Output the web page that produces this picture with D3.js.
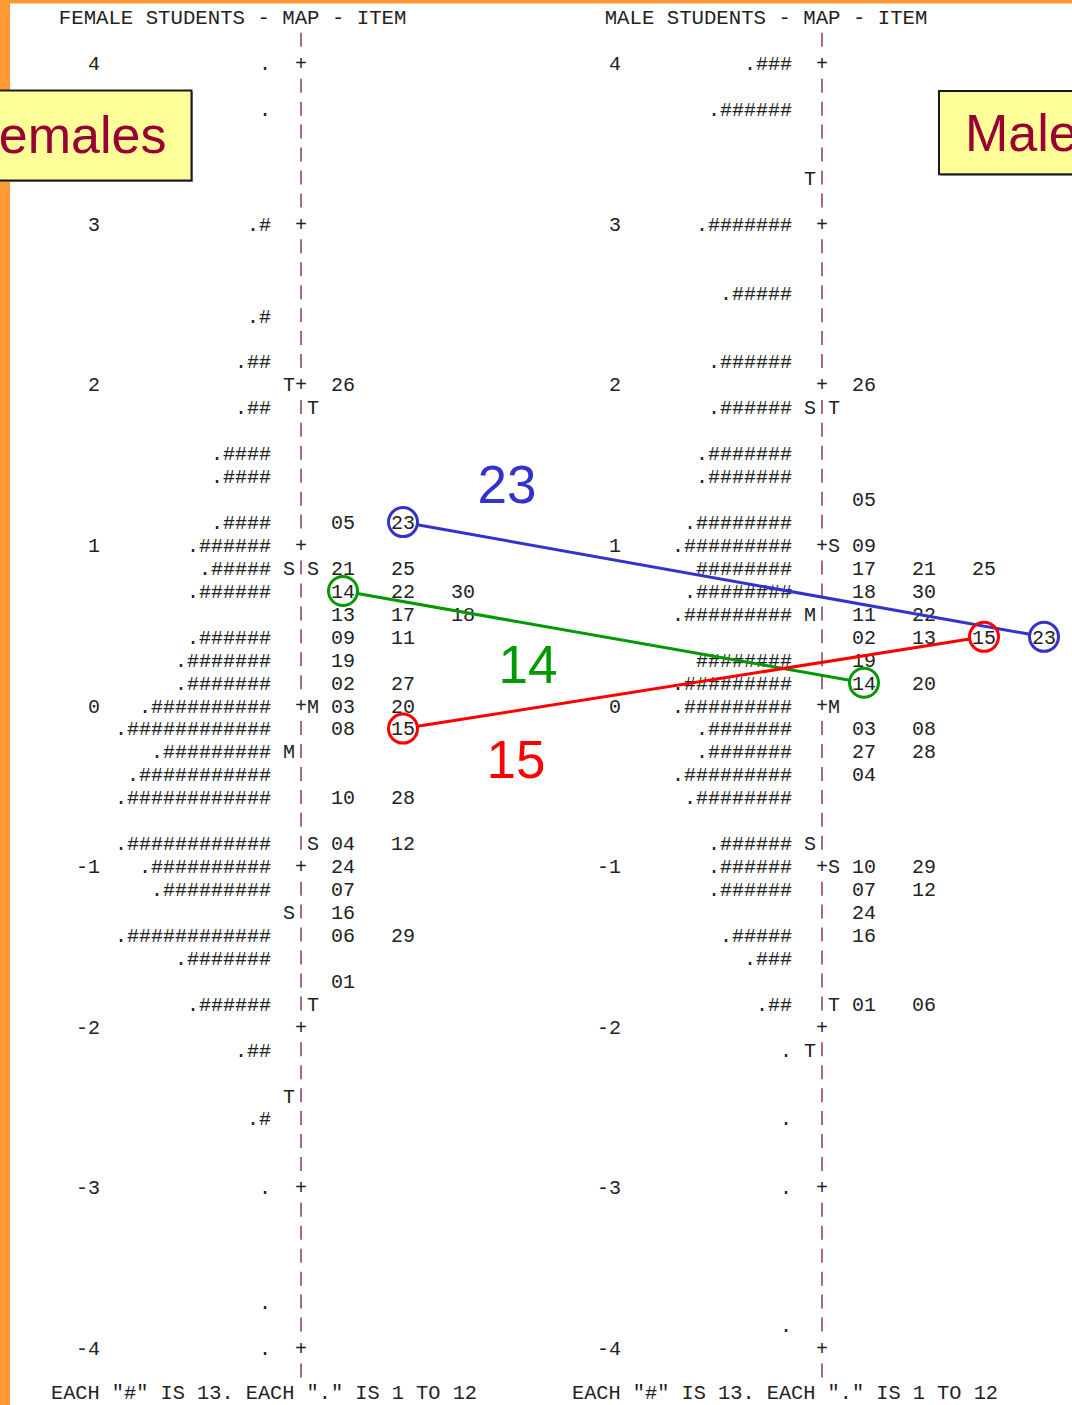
<!DOCTYPE html>
<html>
<head>
<meta charset="utf-8">
<script src="https://cdn.jsdelivr.net/npm/d3@7"></script>
<style>
  html, body { margin: 0; padding: 0; background: #fff; overflow: hidden; }
  svg { display: block; }
</style>
</head>
<body>
<svg id="chart" width="1072" height="1405"></svg>
<script>
// ---- Data: Rasch person–item maps by gender (each text row = 1/7 logit) ----
const logitTicks = [4, 3, 2, 1, 0, -1, -2, -3, -4];
const ROWS_PER_LOGIT = 7;

// persons: [row from top, number of "#", leading "." present]
const femalePersons = [
  [0, 0, 1], [2, 0, 1], [7, 1, 1], [11, 1, 1], [13, 2, 1], [15, 2, 1],
  [17, 4, 1], [18, 4, 1], [20, 4, 1], [21, 6, 1], [22, 5, 1], [23, 6, 1],
  [25, 6, 1], [26, 7, 1], [27, 7, 1], [28, 10, 1], [29, 12, 1], [30, 9, 1],
  [31, 11, 1], [32, 12, 1], [34, 12, 1], [35, 10, 1], [36, 9, 1], [38, 12, 1],
  [39, 7, 1], [41, 6, 1], [43, 2, 1], [46, 1, 1], [49, 0, 1], [54, 0, 1], [56, 0, 1]
];
const femaleItems = [
  [14, ["26"]], [20, ["05", "23"]], [22, ["21", "25"]], [23, ["14", "22", "30"]],
  [24, ["13", "17", "18"]], [25, ["09", "11"]], [26, ["19"]], [27, ["02", "27"]],
  [28, ["03", "20"]], [29, ["08", "15"]], [32, ["10", "28"]], [34, ["04", "12"]],
  [35, ["24"]], [36, ["07"]], [37, ["16"]], [38, ["06", "29"]], [40, ["01"]]
];
const femaleLeftMarks = [[14, "T"], [22, "S"], [30, "M"], [37, "S"], [45, "T"]];
const femaleRightMarks = [[15, "T"], [22, "S"], [28, "M"], [34, "S"], [41, "T"]];

const malePersons = [
  [0, 3, 1], [2, 6, 1], [7, 7, 1], [10, 5, 1], [13, 6, 1], [15, 6, 1],
  [17, 7, 1], [18, 7, 1], [20, 8, 1], [21, 9, 1], [22, 8, 0], [23, 8, 1],
  [24, 9, 1], [26, 8, 0], [27, 9, 1], [28, 9, 1], [29, 7, 1], [30, 7, 1],
  [31, 9, 1], [32, 8, 1], [34, 6, 1], [35, 6, 1], [36, 6, 1], [38, 5, 1],
  [39, 3, 1], [41, 2, 1], [43, 0, 1], [46, 0, 1], [49, 0, 1], [55, 0, 1]
];
const maleItems = [
  [14, ["26"]], [19, ["05"]], [21, ["09"]], [22, ["17", "21", "25"]],
  [23, ["18", "30"]], [24, ["11", "22"]], [25, ["02", "13", "15", "23"]],
  [26, ["19"]], [27, ["14", "20"]], [29, ["03", "08"]], [30, ["27", "28"]],
  [31, ["04"]], [35, ["10", "29"]], [36, ["07", "12"]], [37, ["24"]],
  [38, ["16"]], [41, ["01", "06"]]
];
const maleLeftMarks = [[5, "T"], [15, "S"], [24, "M"], [34, "S"], [43, "T"]];
const maleRightMarks = [[15, "T"], [21, "S"], [28, "M"], [35, "S"], [41, "T"]];

const panelTitles = ["FEMALE STUDENTS - MAP - ITEM", "MALE STUDENTS - MAP - ITEM"];
const footerText = 'EACH "#" IS 13. EACH "." IS 1 TO 12';
const boxLabels = ["Females", "Males"];

// items whose shift between the two maps is highlighted
const linkedItems = ["23", "14", "15"];
const linkColors = ["#3333cc", "#009900", "#ff0000"];

// ---- Layout ----
const W = 1072, H = 1405;
const MONO = "'Liberation Mono', 'Courier New', monospace";
const SANS = "'Liberation Sans', Arial, sans-serif";
const FS = 20;            // mono font size -> 12px per character
const CW = FS * 0.6;
const INK = "#222";
const BAR = "#a0587f";

const svg = d3.select("#chart");
const y = d3.scaleLinear().domain([4, -4]).range([63.3, 1348]);
const rowY = r => y(4 - r / ROWS_PER_LOGIT);

const panels = [
  { axisX: 301, persons: femalePersons, items: femaleItems,
    left: femaleLeftMarks, right: femaleRightMarks, title: panelTitles[0] },
  { axisX: 822, persons: malePersons, items: maleItems,
    left: maleLeftMarks, right: maleRightMarks, title: panelTitles[1] }
];

// page background and orange frame
svg.append("rect").attr("width", W).attr("height", H).attr("fill", "#fff");
svg.append("rect").attr("x", 0).attr("y", 0).attr("width", 10).attr("height", H).attr("fill", "#ff9933");
svg.append("rect").attr("x", 0).attr("y", 0).attr("width", W).attr("height", 3.5).attr("fill", "#ff9933");

const itemX = (p, col) => p.axisX + 42 + 60 * col;   // centre of a two-digit item label

panels.forEach(p => {
  const g = svg.append("g").attr("font-family", MONO).attr("font-size", FS).attr("fill", INK);

  // title, with "MAP" centred on the axis
  const tfs = 20.7, tcw = tfs * 0.6;
  g.append("text")
    .attr("x", p.axisX - (p.title.indexOf("MAP") + 1.5) * tcw)
    .attr("y", rowY(-2) + 7)
    .attr("font-size", tfs)
    .text(p.title);

  // dashed vertical axis: "|" on every row, "+" at whole logits
  const rows = d3.range(-1, 58);
  const isTick = r => r >= 0 && r <= 56 && r % ROWS_PER_LOGIT === 0;
  g.selectAll("line.bar").data(rows.filter(r => !isTick(r))).join("line")
    .attr("class", "bar")
    .attr("x1", p.axisX).attr("x2", p.axisX)
    .attr("y1", r => rowY(r) - 7.5).attr("y2", r => rowY(r) + 6.5)
    .attr("stroke", BAR).attr("stroke-width", 1.8);
  g.selectAll("text.plus").data(logitTicks).join("text")
    .attr("class", "plus")
    .attr("x", p.axisX).attr("y", v => y(v) + 6.8)
    .attr("text-anchor", "middle")
    .text("+");

  // logit labels
  g.selectAll("text.tick").data(logitTicks).join("text")
    .attr("class", "tick")
    .attr("x", p.axisX - 201).attr("y", v => y(v) + 6.9)
    .attr("text-anchor", "end")
    .text(v => String(v));

  // persons
  g.selectAll("text.person").data(p.persons).join("text")
    .attr("class", "person")
    .attr("x", p.axisX - 30).attr("y", d => rowY(d[0]) + 6.9)
    .attr("text-anchor", "end")
    .text(d => (d[2] ? "." : "") + "#".repeat(d[1]));

  // mean / SD markers
  g.selectAll("text.lm").data(p.left).join("text")
    .attr("class", "lm")
    .attr("x", p.axisX - CW).attr("y", d => rowY(d[0]) + 6.9)
    .attr("text-anchor", "middle").text(d => d[1]);
  g.selectAll("text.rm").data(p.right).join("text")
    .attr("class", "rm")
    .attr("x", p.axisX + CW).attr("y", d => rowY(d[0]) + 6.9)
    .attr("text-anchor", "middle").text(d => d[1]);

  // items
  const cells = p.items.flatMap(([r, list]) => list.map((id, col) => ({ r, id, col })));
  g.selectAll("text.item").data(cells).join("text")
    .attr("class", "item")
    .attr("x", d => itemX(p, d.col)).attr("y", d => rowY(d.r) + 6.9)
    .attr("text-anchor", "middle")
    .text(d => d.id);

  // footer
  g.append("text")
    .attr("x", p.axisX - 250).attr("y", 1398.5)
    .attr("font-size", 20.3)
    .text(footerText);
});

// ---- highlighted items: circle in each map, joined by a line ----
function locate(p, id) {
  for (const [r, list] of p.items) {
    const col = list.indexOf(id);
    if (col >= 0) return [itemX(p, col), rowY(r)];
  }
  return null;
}
const R = 14.5;
const labelPos = { "23": [507, 503], "14": [528, 683], "15": [516, 778] };
const lg = svg.append("g");
linkedItems.forEach((id, i) => {
  const a = locate(panels[0], id), b = locate(panels[1], id);
  const col = linkColors[i];
  const dx = b[0] - a[0], dy = b[1] - a[1], len = Math.hypot(dx, dy);
  const ux = dx / len, uy = dy / len;
  lg.append("line")
    .attr("x1", a[0] + ux * R).attr("y1", a[1] + uy * R)
    .attr("x2", b[0] - ux * R).attr("y2", b[1] - uy * R)
    .attr("stroke", col).attr("stroke-width", 3);
  [a, b].forEach(c => lg.append("circle")
    .attr("cx", c[0]).attr("cy", c[1]).attr("r", R)
    .attr("fill", "none").attr("stroke", col).attr("stroke-width", 3));
  lg.append("text")
    .attr("x", labelPos[id][0]).attr("y", labelPos[id][1])
    .attr("text-anchor", "middle")
    .attr("font-family", SANS).attr("font-size", 53)
    .attr("fill", col)
    .text(id);
});

// ---- group boxes (partly running off the page edges) ----
const boxes = [
  { x: -12, y: 90.5, w: 203.5, h: 90, tx: -33, ty: 152.7 },
  { x: 939, y: 91, w: 150, h: 83.3, tx: 965, ty: 151 }
];
boxes.forEach((b, i) => {
  svg.append("rect").attr("x", b.x + 1.5).attr("y", b.y + 1.5).attr("width", b.w).attr("height", b.h)
    .attr("fill", "#9a9a9a");
  svg.append("rect").attr("x", b.x).attr("y", b.y).attr("width", b.w).attr("height", b.h)
    .attr("fill", "#ffff99").attr("stroke", "#1a1a1a").attr("stroke-width", 2);
  svg.append("text").attr("x", b.tx).attr("y", b.ty)
    .attr("font-family", SANS).attr("font-size", 52).attr("fill", "#990033")
    .text(boxLabels[i]);
});
</script>
</body>
</html>
